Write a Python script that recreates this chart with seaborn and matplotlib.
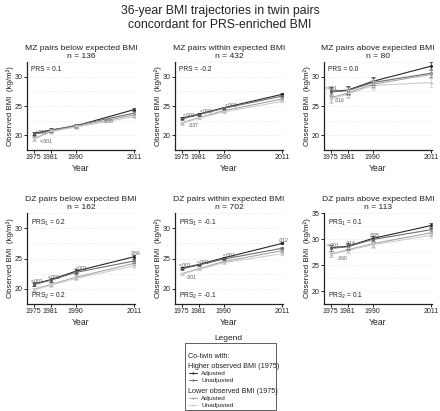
import numpy as np
import pandas as pd
import matplotlib
matplotlib.use("Agg")
import matplotlib.pyplot as plt
import seaborn as sns
from matplotlib.lines import Line2D
from matplotlib.patches import Rectangle

sns.set_theme(style="white")
plt.rcParams['font.family'] = ['Liberation Sans', 'DejaVu Sans']

years = [1975, 1981, 1990, 2011]
series = ["Higher adjusted", "Higher unadjusted", "Lower adjusted", "Lower unadjusted"]
panel_titles = ["MZ pairs below expected BMI\nn = 136", "MZ pairs within expected BMI\nn = 432",
                "MZ pairs above expected BMI\nn = 80", "DZ pairs below expected BMI\nn = 162",
                "DZ pairs within expected BMI\nn = 702", "DZ pairs above expected BMI\nn = 113"]

# BMI means per panel: rows = series, cols = years
mz_below = [[20.3, 20.9, 21.6, 24.4], [20.2, 20.8, 21.7, 23.8], [19.4, 20.7, 21.5, 23.5], [19.3, 20.6, 21.4, 23.2]]
mz_within = [[22.9, 23.6, 24.7, 27.0], [22.8, 23.5, 24.6, 26.7], [22.1, 23.0, 24.2, 26.2], [22.0, 22.9, 24.0, 25.8]]
mz_above = [[27.5, 27.7, 29.2, 31.8], [27.4, 27.6, 29.0, 30.6], [26.4, 27.2, 28.7, 30.4], [26.2, 27.0, 28.5, 29.0]]
dz_below = [[20.8, 21.5, 22.9, 25.3], [20.7, 21.4, 22.7, 24.6], [19.9, 20.7, 21.9, 24.2], [19.8, 20.6, 21.7, 23.8]]
dz_within = [[23.4, 24.0, 25.1, 27.5], [23.3, 23.9, 24.9, 26.7], [22.5, 23.3, 24.5, 26.3], [22.4, 23.2, 24.3, 25.8]]
dz_above = [[28.3, 28.6, 30.1, 32.6], [28.2, 28.5, 29.9, 31.8], [27.1, 27.9, 29.1, 31.2], [27.0, 27.8, 28.9, 30.7]]
panels = [mz_below, mz_within, mz_above, dz_below, dz_within, dz_above]

# error bar half-widths per panel
err = [0.3, 0.2, 0.7, 0.3, 0.15, 0.55]

prs_top = ["PRS = 0.1", "PRS = -0.2", "PRS = 0.0", "PRS$_1$ = 0.2", "PRS$_1$ = -0.1", "PRS$_1$ = 0.1"]
prs_bottom = [None, None, None, "PRS$_2$ = 0.2", "PRS$_2$ = -0.1", "PRS$_2$ = 0.1"]

# p-value annotations: (text, year, bmi)
pvals = [
    [("<.001", 1975.3, 20.5), ("<.001", 1977.3, 18.9), (".006", 2000, 22.4)],
    [("<.001", 1975.3, 23.3), ("<.001", 1981.5, 24.0), ("<.001", 1990.5, 25.1), (".037", 1977.5, 21.6)],
    [("<.001", 1972.9, 27.9), (".016", 1976.5, 25.9)],
    [("<.001", 1974, 21.2), ("<.001", 1980, 21.9), ("<.001", 1989.5, 23.3), (".066", 2009.6, 25.8)],
    [("<.001", 1974, 23.8), ("<.001", 1980.5, 24.4), ("<.001", 1989.5, 25.5), (".012", 2009.6, 27.9), (".001", 1976.7, 21.9)],
    [("<.001", 1973.5, 28.8), (".014", 1980.3, 29.2), (".005", 1989, 30.6), (".060", 1977.5, 26.2)],
]

ylims = [(17.5, 32.5)] * 5 + [(17.5, 35)]
yticks = [[20, 25, 30]] * 5 + [[20, 25, 30, 35]]

palette = {"Higher adjusted": "#262626", "Higher unadjusted": "#6e6e6e",
           "Lower adjusted": "#a6a6a6", "Lower unadjusted": "#cdcdcd"}

W, H = 440, 411
fig = plt.figure(figsize=(W / 100, H / 100), dpi=100)

lefts = [27, 175, 324]
tops = [62, 213]
bottoms = [150, 304]
aw = 108

fig.text(0.5, 1 - 5 / H, "36-year BMI trajectories in twin pairs\nconcordant for PRS-enriched BMI",
         ha="center", va="top", fontsize=8.8, color="#222222", linespacing=1.2)

for i, data in enumerate(panels):
    r, c = divmod(i, 3)
    l = lefts[c]
    b = bottoms[r]
    t = tops[r]
    ax = fig.add_axes([l / W, 1 - b / H, aw / W, (b - t) / H])
    rows = []
    for s, vals in zip(series, data):
        for y, v in zip(years, vals):
            rows.append({"Year": y, "BMI": v, "Series": s})
    df = pd.DataFrame(rows)
    sns.lineplot(data=df, x="Year", y="BMI", hue="Series", palette=palette, ax=ax,
                 marker="o", markersize=2.2, markeredgewidth=0, linewidth=0.8, legend=False)
    for s, vals in zip(series, data):
        ax.errorbar(years, vals, yerr=err[i], fmt="none", ecolor=palette[s], elinewidth=0.5,
                    capsize=1.2, capthick=0.5)
    ax.set_xlim(1972.6, 2011.2)
    ax.set_ylim(*ylims[i])
    ax.set_xticks(years)
    ax.set_yticks(yticks[i])
    for g in np.arange(20, ylims[i][1] + 0.1, 2.5):
        ax.axhline(g, color="#dddddd", lw=0.5, ls=(0, (1, 1.5)), zorder=0)
    for sp in ["top", "right"]:
        ax.spines[sp].set_visible(False)
    for sp in ["left", "bottom"]:
        ax.spines[sp].set_color("#222222")
        ax.spines[sp].set_linewidth(0.9)
    ax.tick_params(axis="both", direction="out", length=2.2, width=0.7, color="#222222",
                   labelsize=5.0, pad=1.0, labelcolor="#222222")
    ax.tick_params(axis="both", which="both", bottom=True, left=True)
    ax.set_xlabel("Year", fontsize=6.2, labelpad=1.5, color="#222222")
    ax.set_ylabel("Observed BMI  (kg/m²)", fontsize=5.7, color="#222222")
    ax.yaxis.set_label_coords(-0.118, 0.5)
    ax.set_title(panel_titles[i], fontsize=6.1, color="#222222", pad=3, linespacing=1.25)
    ax.text(0.04, 0.95, prs_top[i], transform=ax.transAxes, fontsize=4.8, va="top", ha="left", color="#222222")
    if prs_bottom[i]:
        ax.text(0.04, 0.03, prs_bottom[i], transform=ax.transAxes, fontsize=4.8, va="bottom", ha="left", color="#222222")
    for txt, xx, yy in pvals[i]:
        ax.text(xx, yy, txt, fontsize=3.6, color="#555555", ha="left", va="center")

# Legend
fig.text(228 / W, 1 - 338 / H, "Legend", ha="center", va="center", fontsize=6, color="#222222")
lx0, lx1, ly0, ly1 = 185, 276, 343, 410
fig.patches.append(Rectangle((lx0 / W, 1 - ly1 / H), (lx1 - lx0) / W, (ly1 - ly0) / H,
                             transform=fig.transFigure, fill=False, edgecolor="#444444", lw=0.6))
entries = [("Co-twin with:", None, 356), ("Higher observed BMI (1975)", None, 366),
           ("Adjusted", "Higher adjusted", 373), ("Unadjusted", "Higher unadjusted", 380),
           ("Lower observed BMI (1975)", None, 391), ("Adjusted", "Lower adjusted", 398),
           ("Unadjusted", "Lower unadjusted", 405)]
for txt, key, yy in entries:
    yf = 1 - yy / H
    if key is None:
        fig.text(188 / W, yf, txt, fontsize=5.2, va="center", ha="left", color="#222222")
    else:
        fig.add_artist(Line2D([189 / W, 197 / W], [yf, yf], transform=fig.transFigure,
                              color=palette[key], lw=0.7))
        fig.add_artist(Line2D([193 / W], [yf], transform=fig.transFigure, color=palette[key],
                              marker="o", markersize=1.6, markeredgewidth=0))
        fig.text(201 / W, yf, txt, fontsize=4.6, va="center", ha="left", color="#222222")

fig.savefig("out.png", dpi=100)
